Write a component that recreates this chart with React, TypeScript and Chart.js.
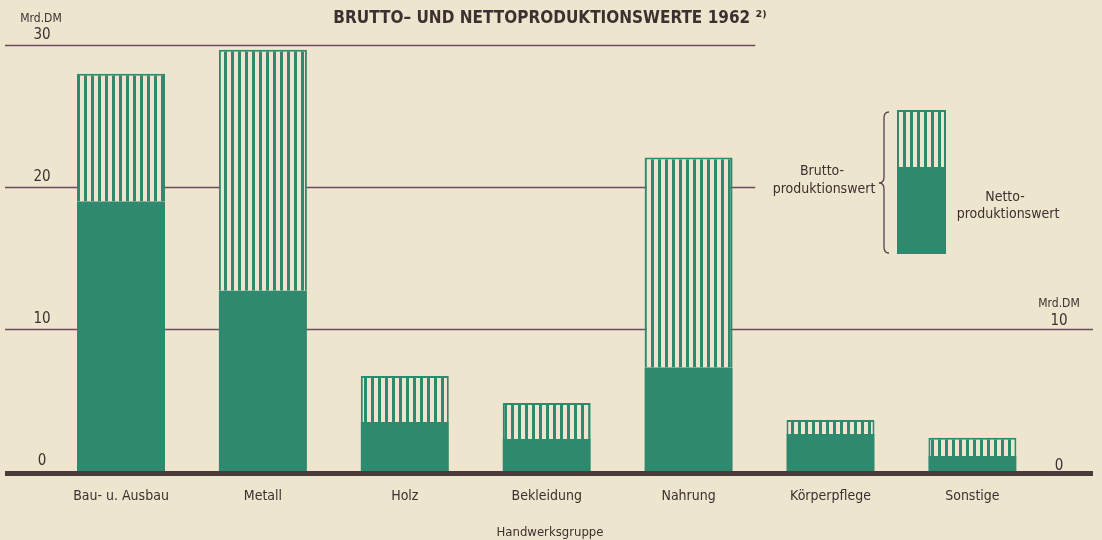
import React, { useEffect, useRef } from "react";
import { Chart, registerables } from "chart.js";

Chart.register(...registerables);

const categories = ["Bau- u. Ausbau", "Metall", "Holz", "Bekleidung", "Nahrung", "Körperpflege", "Sonstige"];
const brutto = [28.0, 29.7, 6.7, 4.8, 22.1, 3.6, 2.35];
const netto = [19.0, 12.7, 3.45, 2.25, 7.3, 2.6, 1.05];
const leftTicks = [30, 20, 10, 0];
const rightTicks = [10, 0];
const unitLabel = "Mrd.DM";
const titleText = "BRUTTO– UND NETTOPRODUKTIONSWERTE 1962 ²⁾";
const xTitle = "Handwerksgruppe";

const FONT = "'DejaVu Sans Condensed', 'Liberation Sans Narrow', 'DejaVu Sans', sans-serif";
const PAPER = "#eee5cf";
const GREEN = "#2e896e";
const TEXT = "#3d3030";
const GRID = "#6e4c5e";
const BASE = "#4b3a3a";

function makePattern(ctx: CanvasRenderingContext2D) {
  const c = document.createElement("canvas");
  c.width = 7;
  c.height = 4;
  const p = c.getContext("2d")!;
  p.fillStyle = PAPER;
  p.fillRect(0, 0, 7, 4);
  p.fillStyle = GREEN;
  p.fillRect(0, 0, 3, 4);
  return ctx.createPattern(c, "repeat")!;
}

export default function App() {
  const ref = useRef<HTMLCanvasElement | null>(null);
  useEffect(() => {
    document.body.style.margin = "0";
    document.body.style.background = PAPER;
    const canvas = ref.current!;
    const ctx = canvas.getContext("2d")!;
    const pattern = makePattern(ctx);

    const decor = {
      id: "decor",
      beforeDatasetsDraw(chart: any) {
        const { ctx, chartArea } = chart;
        const xs = chart.scales.x;
        const ys = chart.scales.y;
        const shortEnd = xs.getPixelForValue(4.47);
        ctx.save();
        ctx.strokeStyle = GRID;
        ctx.lineWidth = 1.5;
        [30, 20, 10].forEach((v) => {
          const y = Math.round(ys.getPixelForValue(v)) + 0.5;
          ctx.beginPath();
          ctx.moveTo(chartArea.left, y);
          ctx.lineTo(v === 10 ? chartArea.right - 2 : shortEnd, y);
          ctx.stroke();
        });
        ctx.restore();
      },
      afterDatasetsDraw(chart: any) {
        const { ctx, chartArea } = chart;
        const ys = chart.scales.y;
        ctx.save();
        // baseline
        const y0 = ys.getPixelForValue(0);
        ctx.fillStyle = BASE;
        ctx.fillRect(chartArea.left, y0, chartArea.right - chartArea.left - 2, 5);

        // tick labels
        ctx.fillStyle = TEXT;
        ctx.textAlign = "center";
        ctx.textBaseline = "middle";
        const lx = chartArea.left + 37;
        const rx = chartArea.right - 36;
        ctx.font = `15px ${FONT}`;
        leftTicks.forEach((v) => ctx.fillText(String(v), lx, ys.getPixelForValue(v) - 10));
        rightTicks.forEach((v) => ctx.fillText(String(v), rx, ys.getPixelForValue(v) - (v === 0 ? 5 : 8)));
        ctx.font = `12px ${FONT}`;
        ctx.fillText(unitLabel, lx - 1, ys.getPixelForValue(30) - 27);
        ctx.fillText(unitLabel, rx, ys.getPixelForValue(10) - 25);

        // legend
        const bx = 897, bw = 49, by = 110, bm = 167, bb = 254;
        ctx.fillStyle = pattern;
        ctx.fillRect(bx, by, bw, bm - by);
        ctx.fillStyle = GREEN;
        ctx.fillRect(bx, bm, bw, bb - bm);
        ctx.strokeStyle = GREEN;
        ctx.lineWidth = 2;
        ctx.strokeRect(bx + 1, by + 1, bw - 2, bm - by);

        // brace
        ctx.strokeStyle = "#5a4050";
        ctx.lineWidth = 1.3;
        ctx.beginPath();
        ctx.moveTo(889, 112);
        ctx.quadraticCurveTo(884, 112, 884, 118);
        ctx.lineTo(884, 177);
        ctx.quadraticCurveTo(884, 183, 879, 183);
        ctx.quadraticCurveTo(884, 183, 884, 189);
        ctx.lineTo(884, 247);
        ctx.quadraticCurveTo(884, 253, 889, 253);
        ctx.stroke();

        ctx.fillStyle = TEXT;
        ctx.font = `14px ${FONT}`;
        ctx.fillText("Brutto-", 822, 171);
        ctx.fillText("produktionswert", 824, 189);
        ctx.fillText("Netto-", 1005, 197);
        ctx.fillText("produktionswert", 1008, 214);
        ctx.restore();
      },
    };

    const chart = new Chart(ctx, {
      type: "bar",
      data: {
        datasets: [
          {
            label: "Nettoproduktionswert",
            data: netto.map((v, i) => ({ x: i, y: v })),
            backgroundColor: GREEN,
            borderWidth: 0,
            grouped: false,
            categoryPercentage: 1,
            barPercentage: 0.62,
          },
          {
            label: "Bruttoproduktionswert",
            data: brutto.map((v, i) => ({ x: i, y: [netto[i], v] })),
            backgroundColor: pattern,
            borderColor: GREEN,
            borderWidth: 2,
            borderSkipped: "start",
            grouped: false,
            categoryPercentage: 1,
            barPercentage: 0.62,
          },
        ],
      } as any,
      options: {
        animation: false,
        responsive: false,
        layout: { padding: { left: 5, right: 7, top: 0, bottom: 0 } },
        plugins: {
          legend: { display: false },
          tooltip: { enabled: false },
          title: {
            display: true,
            text: titleText,
            color: TEXT,
            font: { family: FONT, size: 17, weight: "bold" },
            padding: { top: 8, bottom: 17 },
          },
        },
        scales: {
          x: {
            type: "linear",
            offset: false,
            min: -0.8175,
            max: 6.864,
            grid: { display: false, drawTicks: false, offset: false },
            border: { display: false },
            afterBuildTicks: (s: any) => {
              s.ticks = categories.map((_, i) => ({ value: i }));
            },
            ticks: {
              callback: (v: any) => categories[v] ?? "",
              autoSkip: false,
              maxRotation: 0,
              padding: 17,
              color: TEXT,
              font: { family: FONT, size: 14 },
            },
            title: {
              display: true,
              text: xTitle,
              color: TEXT,
              font: { family: FONT, size: 13 },
              padding: { top: 2.6, bottom: 0 },
            },
          },
          y: { min: 0, max: 30, display: false },
        },
      } as any,
      plugins: [decor],
    });
    return () => chart.destroy();
  }, []);
  return (
    <div style={{ width: 1102, height: 540, background: PAPER }}>
      <canvas ref={ref} width={1102} height={540} style={{ display: "block" }} />
    </div>
  );
}
